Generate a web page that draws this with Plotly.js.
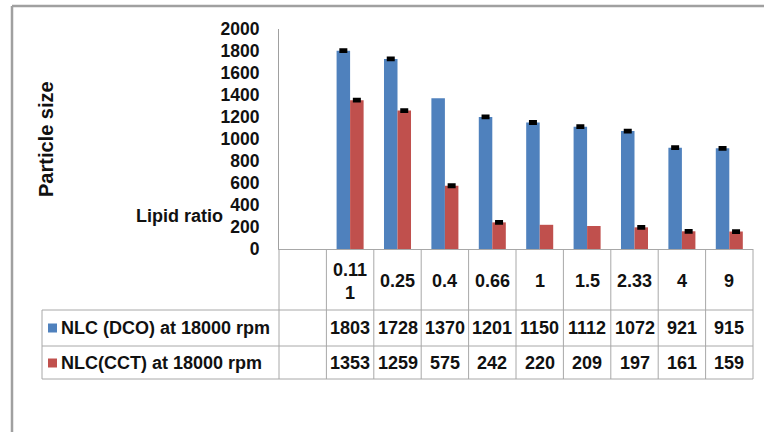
<!DOCTYPE html>
<html>
<head>
<meta charset="utf-8">
<script src="https://cdn.plot.ly/plotly-3.0.1.min.js"></script>
<style>
  html, body { margin: 0; padding: 0; background: #fff; }
  #chart { width: 764px; height: 432px; }
</style>
</head>
<body>
<div id="chart"></div>
<script>
// Lipid ratio categories and the header labels shown in the data table
const ratios = ["0.111", "0.25", "0.4", "0.66", "1", "1.5", "2.33", "4", "9"];
const headerLabels = ["0.11<br>1", "0.25", "0.4", "0.66", "1", "1.5", "2.33", "4", "9"];

// Particle size per series
const seriesNames = ["NLC (DCO) at 18000 rpm", "NLC(CCT) at 18000 rpm"];
const dco = [1803, 1728, 1370, 1201, 1150, 1112, 1072, 921, 915];
const cct = [1353, 1259, 575, 242, 220, 209, 197, 161, 159];
// error half-widths; null = no error bar on that bar
const dcoErr = [8, 8, null, 8, 8, 8, 8, 8, 8];
const cctErr = [8, 8, 8, 8, null, null, 8, 8, 8];

const yTicks = [0, 200, 400, 600, 800, 1000, 1200, 1400, 1600, 1800, 2000];

const colors = ["#4F81BD", "#C0504D"];
const FONT = "Liberation Sans, Arial, sans-serif";
const gridColor = "#a8a8a8";

// plot frame in pixels
const W = 764, H = 432;
const M = { l: 279, r: 11, t: 29, b: 183 };
const PW = W - M.l - M.r, PH = H - M.t - M.b;
const px = x => (x - M.l) / PW;          // pixel -> paper x
const py = y => (H - M.b - y) / PH;      // pixel -> paper y

const errArray = a => a.map(v => (v === null ? NaN : v));

const traces = [
  {
    type: "bar", name: seriesNames[0], x: ratios, y: dco,
    marker: { color: colors[0] },
    error_y: { type: "data", array: errArray(dcoErr), visible: true, color: "#000", thickness: 3, width: 4 },
    hoverinfo: "skip"
  },
  {
    type: "bar", name: seriesNames[1], x: ratios, y: cct,
    marker: { color: colors[1] },
    error_y: { type: "data", array: errArray(cctErr), visible: true, color: "#000", thickness: 3, width: 4 },
    hoverinfo: "skip"
  }
];

// table rows (pixel y of row lines) and text centres
const rowLines = [310, 346, 379];
const headerY = 281, rowY = [328, 363];
const nSlots = ratios.length + 1;   // one blank leading slot

const shapes = [];
const line = (x0, y0, x1, y1, color, width) => shapes.push({
  type: "line", xref: "paper", yref: "paper",
  x0: x0, y0: y0, x1: x1, y1: y1,
  line: { color: color, width: width }
});

// outer frame (top and left)
line(px(12), py(6), px(W + 2), py(6), "#a0a0a0", 2.5);
line(px(12), py(6), px(12), py(H + 2), "#a0a0a0", 2.5);

// table grid: vertical lines at category boundaries
for (let k = 0; k <= nSlots; k++) {
  line(k / nSlots, 0, k / nSlots, py(rowLines[2]), gridColor, 1);
}
// legend column left edge
line(px(42), py(rowLines[0]), px(42), py(rowLines[2]), gridColor, 1);
// horizontal row lines
rowLines.forEach(y => line(px(42), py(y), 1, py(y), gridColor, 1));

// legend keys
[0, 1].forEach(i => shapes.push({
  type: "rect", xref: "paper", yref: "paper",
  x0: px(48), x1: px(57), y0: py(rowY[i] + 4.5), y1: py(rowY[i] - 4.5),
  fillcolor: colors[i], line: { width: 0 }
}));

const annotations = [];
const txt = (o) => annotations.push(Object.assign({
  showarrow: false, font: { family: FONT, size: 18, color: "#111", weight: "bold" }
}, o));

// header row: lipid ratio labels
headerLabels.forEach((lab, i) => txt({
  xref: "x", yref: "paper", x: i, y: py(headerY), text: lab,
  xanchor: "center", yanchor: "middle"
}));
// value rows
[dco, cct].forEach((vals, r) => vals.forEach((v, i) => txt({
  xref: "x", yref: "paper", x: i, y: py(rowY[r]), text: String(v),
  xanchor: "center", yanchor: "middle"
})));
// series names in the table
seriesNames.forEach((n, r) => txt({
  xref: "paper", yref: "paper", x: px(59), y: py(rowY[r]), text: n,
  xanchor: "left", yanchor: "middle"
}));
// axis captions
txt({
  xref: "paper", yref: "paper", x: px(46), y: py(139), text: "Particle size",
  textangle: -90, xanchor: "center", yanchor: "middle",
  font: { family: FONT, size: 20, color: "#111", weight: "bold" }
});
txt({
  xref: "paper", yref: "paper", x: px(179), y: py(216), text: "Lipid ratio",
  xanchor: "center", yanchor: "middle"
});

const layout = {
  width: W, height: H,
  margin: M,
  paper_bgcolor: "#fff", plot_bgcolor: "#fff",
  showlegend: false,
  barmode: "group", bargap: 0.43, bargroupgap: 0,
  xaxis: {
    type: "category", range: [-1.5, ratios.length - 0.5],
    showticklabels: false, ticks: "", showgrid: false, zeroline: false,
    showline: true, linecolor: gridColor, linewidth: 1, fixedrange: true
  },
  yaxis: {
    range: [0, 2000], tickvals: yTicks, ticktext: yTicks.map(String),
    showgrid: false, zeroline: false, ticks: "",
    ticklabelstandoff: 15,
    showline: true, linecolor: "#a0a0a0", linewidth: 1,
    tickfont: { family: FONT, size: 17.5, color: "#111", weight: "bold" },
    fixedrange: true
  },
  shapes: shapes,
  annotations: annotations
};

Plotly.newPlot("chart", traces, layout, { staticPlot: true, displayModeBar: false });
</script>
</body>
</html>
